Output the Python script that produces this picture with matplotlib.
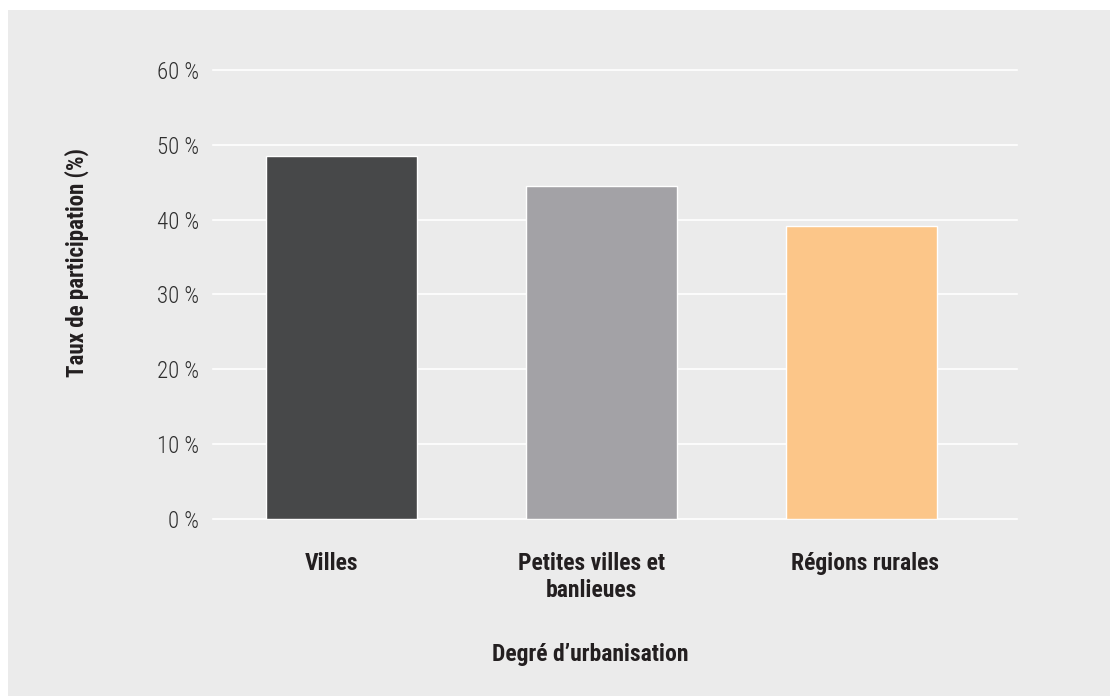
import matplotlib
matplotlib.use('Agg')
import matplotlib.pyplot as plt
import matplotlib.transforms as mtransforms
from matplotlib import font_manager
from matplotlib.patches import Rectangle

# data
categories = ['Villes', 'Petites villes et\nbanlieues', 'Régions rurales']
values = [48.5, 44.5, 39.2]
colors = ['#474849', '#a3a2a6', '#fcc689']
yticks = [0, 10, 20, 30, 40, 50, 60]
ytick_labels = ['0 %', '10 %', '20 %', '30 %', '40 %', '50 %', '60 %']

# pick a condensed face if one is around
names = set(f.name for f in font_manager.fontManager.ttflist)
fam = 'Roboto'
for cand in ['Roboto Condensed', 'Liberation Sans Narrow', 'Open Sans Condensed', 'Roboto']:
    if cand in names:
        fam = cand
        break
plt.rcParams['font.family'] = [fam, 'DejaVu Sans']

bg = '#ebebeb'
txt = '#231f20'

fig = plt.figure(figsize=(11.1, 6.96), dpi=100, facecolor=bg)
# white strip at top and left
fig.patches.append(Rectangle((0, 1 - 10 / 696), 1, 10 / 696, transform=fig.transFigure,
                             facecolor='white', edgecolor='none'))
fig.patches.append(Rectangle((0, 0), 8 / 1110, 1, transform=fig.transFigure,
                             facecolor='white', edgecolor='none'))

ax = fig.add_axes([213 / 1110, 1 - 518.7 / 696, 804 / 1110, 448.7 / 696])
ax.set_facecolor(bg)

x = range(len(values))
ax.bar(x, values, width=0.58, color=colors, edgecolor='white', linewidth=1.0, zorder=3)

ax.set_ylim(0, 60)
ax.set_xlim(-0.494, 2.598)
ax.set_yticks(yticks)
ax.set_yticklabels(ytick_labels, fontsize=16.5, color='#2e2e2e', fontweight='light')
ax.set_xticks(list(x))
ax.set_xticklabels(categories, fontsize=17, fontweight='bold', color=txt,
                   linespacing=1.2, va='top')
ax.tick_params(axis='both', length=0)
ax.tick_params(axis='y', pad=10)
ax.tick_params(axis='x', pad=24)
for s in ax.spines.values():
    s.set_visible(False)
ax.grid(axis='y', color='white', linewidth=1.2, zorder=1)
for gl in ax.get_ygridlines():
    gl.set_clip_on(False)
ax.set_axisbelow(True)

# the original nudges the labels a little off the bar centres
shifts = [-10, -10, 3]
for lab, dx in zip(ax.get_xticklabels(), shifts):
    lab.set_transform(lab.get_transform() +
                      mtransforms.ScaledTranslation(dx / 100, 0, fig.dpi_scale_trans))

fig.text(590 / 1110, 1 - 655 / 696, 'Degré d\u2019urbanisation', fontsize=17,
         fontweight='bold', color=txt, ha='center', va='center')
fig.text(77 / 1110, 1 - 263 / 696, 'Taux de participation (%)', fontsize=16.5,
         fontweight='bold', color=txt, ha='center', va='center', rotation=90)

fig.savefig('out.png', dpi=100, facecolor=bg)
